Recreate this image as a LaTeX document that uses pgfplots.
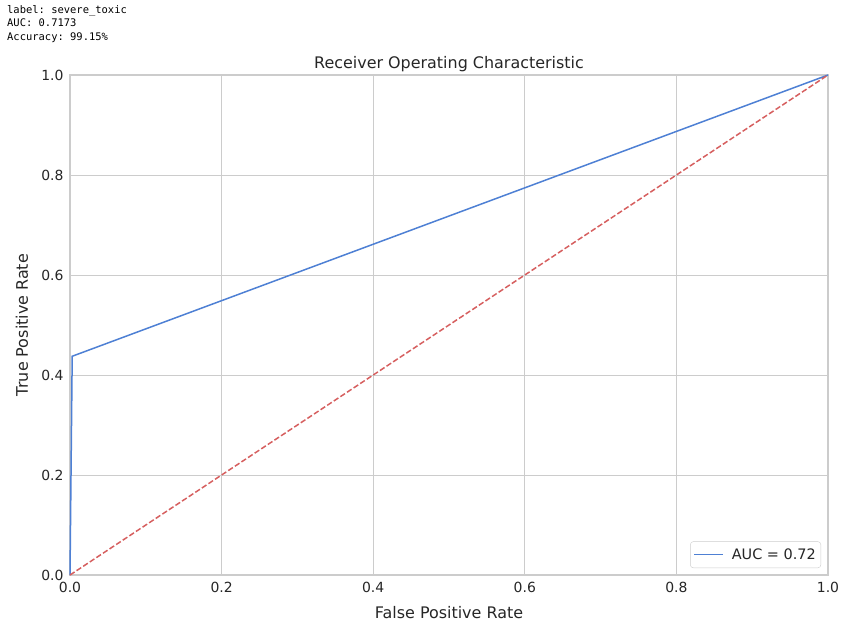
\documentclass[border=0pt]{standalone}
\usepackage{pgfplots}
\pgfplotsset{compat=1.18}
\usepackage{fontspec}
\setmainfont{DejaVu Sans}
\setmonofont{DejaVu Sans Mono}
\definecolor{sbblue}{HTML}{4E80D4}
\definecolor{sbred}{HTML}{D65F5F}
\definecolor{gridc}{HTML}{CCCCCC}
\definecolor{txt}{HTML}{262626}
\begin{document}
\begin{tikzpicture}[x=1bp,y=1bp]
\path[use as bounding box] (0,0) rectangle (841,-626);
\node[anchor=north west, font=\ttfamily\fontsize{10.5}{13.5}\selectfont, align=left, inner sep=0, text=black] at (7,-5) {label: severe\_toxic\\AUC: 0.7173\\Accuracy: 99.15\%};
\begin{axis}[at={(70bp,-575bp)}, anchor=south west, scale only axis,
  width=758bp, height=500bp,
  xmin=0, xmax=1, ymin=0, ymax=1,
  xtick={0,0.2,0.4,0.6,0.8,1}, ytick={0,0.2,0.4,0.6,0.8,1},
  /pgf/number format/fixed, /pgf/number format/fixed zerofill, /pgf/number format/precision=1,
  /pgf/number format/assume math mode=true,
  tick label style={font=\fontsize{14}{16}\selectfont, text=txt},
  xticklabel style={yshift=-4bp},
  yticklabel style={xshift=-3bp},
  major tick length=0pt,
  grid=major, grid style={gridc, line width=1bp},
  axis line style={gridc, line width=1.2bp},
  title={Receiver Operating Characteristic},
  title style={font=\fontsize{16}{18}\selectfont, text=txt, at={(axis description cs:0.5,1.010)}, anchor=center},
  xlabel={False Positive Rate}, ylabel={True Positive Rate},
  label style={font=\fontsize{16}{18}\selectfont, text=txt},
  xlabel style={at={(axis description cs:0.5,-0.076)}, anchor=center},
  ylabel style={at={(axis description cs:-0.0633,0.5)}, anchor=center},
  legend style={at={(0.9908,0.014)}, anchor=south east, draw=gridc, rounded corners=3bp,
    font=\fontsize{14.5}{16}\selectfont, text=txt, inner xsep=3bp, inner ysep=5bp,
    /tikz/every odd column/.append style={column sep=6bp}},
  legend cell align=left,
  legend image code/.code={\draw[#1] (0bp,0bp) -- (29bp,0bp);},
  clip=false,
]
\addplot[sbblue, line width=1.5bp] coordinates {(0,0) (0.0029,0.4375) (1,1)};
\addlegendentry{AUC = 0.72}
\addplot[sbred, line width=1.5bp, dash pattern=on 5.5bp off 2.4bp, forget plot] coordinates {(0,0) (1,1)};
\end{axis}
\end{tikzpicture}
\end{document}
